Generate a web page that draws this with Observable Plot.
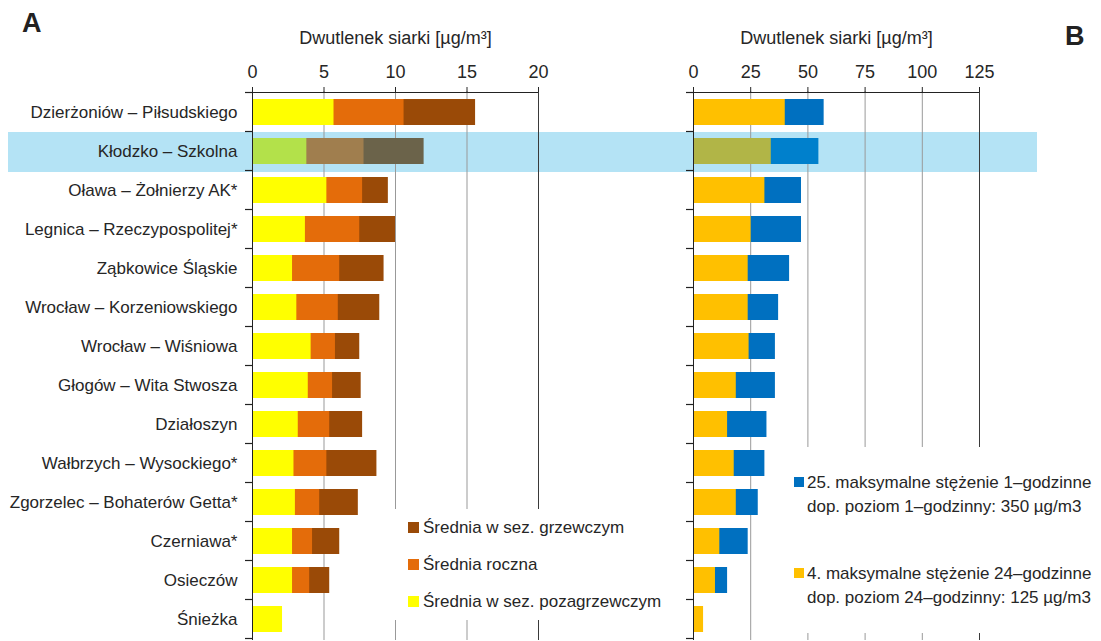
<!DOCTYPE html>
<html><head><meta charset="utf-8">
<script src="https://cdn.jsdelivr.net/npm/d3@7"></script>
<script src="https://cdn.jsdelivr.net/npm/@observablehq/plot@0.6"></script>
<style>
body{margin:0;background:#fff;}
#wrap{position:relative;width:1101px;height:641px;overflow:hidden;font-family:"Liberation Sans",Arial,sans-serif;color:#262626;}
#wrap svg{position:absolute;top:0;}
.hl{position:absolute;background:#b4e3f5;}
.lg{position:absolute;background:#fff;font-size:17px;line-height:23px;white-space:nowrap;}
.sw{position:absolute;}
.tx{position:absolute;}
.panel{position:absolute;font-weight:bold;font-size:27px;color:#222;}
</style></head><body><div id="wrap"></div>
<script>
// ---- data ----
const stations = ["Dzierżoniów – Piłsudskiego","Kłodzko – Szkolna","Oława – Żołnierzy AK*","Legnica – Rzeczypospolitej*","Ząbkowice Śląskie","Wrocław – Korzeniowskiego","Wrocław – Wiśniowa","Głogów – Wita Stwosza","Działoszyn","Wałbrzych – Wysockiego*","Zgorzelec – Bohaterów Getta*","Czerniawa*","Osieczów","Śnieżka"];
const highlighted = "Kłodzko – Szkolna";
// panel A: mean values [µg/m3]
const meanNonHeating = [5.7, 3.8, 5.2, 3.7, 2.8, 3.1, 4.1, 3.9, 3.2, 2.9, 3.0, 2.8, 2.8, 2.1];
const meanAnnual     = [10.6, 7.8, 7.7, 7.5, 6.1, 6.0, 5.8, 5.6, 5.4, 5.2, 4.7, 4.2, 4.0, null];
const meanHeating    = [15.6, 12.0, 9.5, 10.0, 9.2, 8.9, 7.5, 7.6, 7.7, 8.7, 7.4, 6.1, 5.4, null];
// panel B: maxima [µg/m3]
const max24h = [40.1, 34.0, 31.2, 25.2, 23.9, 23.9, 24.3, 18.7, 14.9, 17.8, 18.7, 11.5, 9.6, 4.4];
const max1h  = [57.1, 54.8, 47.2, 47.2, 42.0, 37.2, 35.8, 35.8, 32.1, 31.2, 28.3, 23.9, 14.9, null];
const ticksA = [0, 5, 10, 15, 20];
const ticksB = [0, 25, 50, 75, 100, 125];
const axisTitle = "Dwutlenek siarki [µg/m³]";
const legendA = [
  {label: "Średnia w sez. grzewczym", color: "#9a4a07"},
  {label: "Średnia roczna", color: "#e46c0a"},
  {label: "Średnia w sez. pozagrzewczym", color: "#ffff00"}
];
const legendB = [
  {lines: ["25. maksymalne stężenie 1–godzinne", "dop. poziom 1–godzinny: 350 µg/m3"], color: "#0070c0"},
  {lines: ["4. maksymalne stężenie 24–godzinne", "dop. poziom 24–godzinny: 125 µg/m3"], color: "#ffc000"}
];
const panelLabels = ["A", "B"];

// ---- colours ----
const colA = {heat: ["#9a4a07", "#6b634a"], ann: ["#e46c0a", "#a07e4e"], non: ["#ffff00", "#b3e14a"]};
const colB = {h1: ["#0070c0", "#0080cc"], h24: ["#ffc000", "#b1b547"]};
const pick = (pair, s) => s === highlighted ? pair[1] : pair[0];

const FONT = '"Liberation Sans", Arial, sans-serif';
const wrap = document.getElementById("wrap");

const dataA = stations.map((s, i) => ({station: s, non: meanNonHeating[i], ann: meanAnnual[i], heat: meanHeating[i]}));
const dataB = stations.map((s, i) => ({station: s, h24: max24h[i], h1: max1h[i]}));

function common(width, ml, mr) {
  return {
    width, height: 641, marginLeft: ml, marginRight: mr, marginTop: 91, marginBottom: 1,
    style: {background: "transparent", fontFamily: FONT, fontSize: "17px", color: "#262626", overflow: "visible"},
    y: {domain: stations, paddingInner: 0.345, paddingOuter: 0.1725, align: 0.5},
    color: {type: "identity"}
  };
}

const plotA = Plot.plot({
  ...common(560, 252, 22),
  x: {domain: [0, 20]},
  marks: [
    Plot.ruleX(ticksA.slice(1, -1), {stroke: "#999"}),
    Plot.ruleX([20], {stroke: "#3a3a3a"}),
    Plot.barX(dataA.filter(d => d.heat != null), {x: "heat", y: "station", fill: d => pick(colA.heat, d.station)}),
    Plot.barX(dataA.filter(d => d.ann != null), {x: "ann", y: "station", fill: d => pick(colA.ann, d.station)}),
    Plot.barX(dataA, {x: "non", y: "station", fill: d => pick(colA.non, d.station)}),
    Plot.ruleX([0], {stroke: "#222"}),
    Plot.axisX({anchor: "top", ticks: ticksA, tickFormat: d => String(d), tickSize: 5, tickPadding: 9, fontSize: 18,
      label: axisTitle, labelAnchor: "center", labelOffset: 60, labelArrow: "none"}),
    Plot.axisY({anchor: "left", tickSize: 0, tickPadding: 15, label: null})
  ]
});

const plotB = Plot.plot({
  ...common(541, 133, 122),
  x: {domain: [0, 125]},
  marks: [
    Plot.ruleX(ticksB.slice(1, -1), {stroke: "#999"}),
    Plot.ruleX([125], {stroke: "#3a3a3a"}),
    Plot.barX(dataB.filter(d => d.h1 != null), {x: "h1", y: "station", fill: d => pick(colB.h1, d.station)}),
    Plot.barX(dataB, {x: "h24", y: "station", fill: d => pick(colB.h24, d.station)}),
    Plot.ruleX([0], {stroke: "#222"}),
    Plot.axisX({anchor: "top", ticks: ticksB, tickFormat: d => String(d), tickSize: 5, tickPadding: 9, fontSize: 18,
      label: axisTitle, labelAnchor: "center", labelOffset: 60, labelArrow: "none"}),
    Plot.axisY({anchor: "left", tickSize: 0, tickPadding: 15, label: null, tickFormat: () => ""})
  ]
});

// highlight row (behind both plots), positioned from the y scale
const ysA = plotA.scale("y");
const rowTop = s => ysA.apply(s) - (ysA.step - ysA.bandwidth) / 2;
const hl = document.createElement("div");
hl.className = "hl";
Object.assign(hl.style, {left: "8px", width: "1029px", top: rowTop(highlighted) + "px", height: (ysA.step + 1.5) + "px"});
wrap.appendChild(hl);

plotA.style.left = "0px";
plotB.style.left = "560px";
wrap.appendChild(plotA);
wrap.appendChild(plotB);

// top axis line and row-boundary ticks from the scales
function decorate(plot, xmax) {
  const xs = plot.scale("x"), ys = plot.scale("y");
  const svg = d3.select(plot);
  const x0 = xs.apply(0), x1 = xs.apply(xmax);
  const bounds = stations.map(s => ys.apply(s) - (ys.step - ys.bandwidth) / 2);
  bounds.push(bounds[bounds.length - 1] + ys.step);
  const g = svg.append("g").attr("stroke", "#222").attr("stroke-width", 1.2);
  g.append("line").attr("x1", x0 - 7).attr("x2", x1).attr("y1", bounds[0]).attr("y2", bounds[0]);
  bounds.forEach(b => g.append("line").attr("x1", x0 - 7).attr("x2", x0).attr("y1", b).attr("y2", b));
}
decorate(plotA, 20);
decorate(plotB, 125);

// legends
function legendBox(left, top, w, h) {
  const d = document.createElement("div");
  d.className = "lg";
  Object.assign(d.style, {left: left + "px", top: top + "px", width: w + "px", height: h + "px"});
  wrap.appendChild(d);
  return d;
}
const la = legendBox(390, 509, 290, 111);
legendA.forEach((it, i) => {
  const sw = document.createElement("div");
  sw.className = "sw";
  Object.assign(sw.style, {left: "18px", top: (13 + i * 37) + "px", width: "11px", height: "11px", background: it.color});
  la.appendChild(sw);
  const t = document.createElement("div");
  t.className = "tx";
  Object.assign(t.style, {left: "33px", top: (7 + i * 37) + "px"});
  t.textContent = it.label;
  la.appendChild(t);
});
const lb = legendBox(783, 447, 318, 186);
legendB.forEach((it, i) => {
  const sw = document.createElement("div");
  sw.className = "sw";
  Object.assign(sw.style, {left: "11px", top: (30 + i * 91) + "px", width: "10px", height: "10px", background: it.color});
  lb.appendChild(sw);
  it.lines.forEach((ln, j) => {
    const t = document.createElement("div");
    t.className = "tx";
    Object.assign(t.style, {left: "24px", top: (24 + i * 91 + j * 23.5) + "px"});
    t.textContent = ln;
    lb.appendChild(t);
  });
});

// panel letters
[[panelLabels[0], 22, 8], [panelLabels[1], 1065, 21]].forEach(([txt, x, y]) => {
  const d = document.createElement("div");
  d.className = "panel";
  Object.assign(d.style, {left: x + "px", top: y + "px"});
  d.textContent = txt;
  wrap.appendChild(d);
});
</script></body></html>
